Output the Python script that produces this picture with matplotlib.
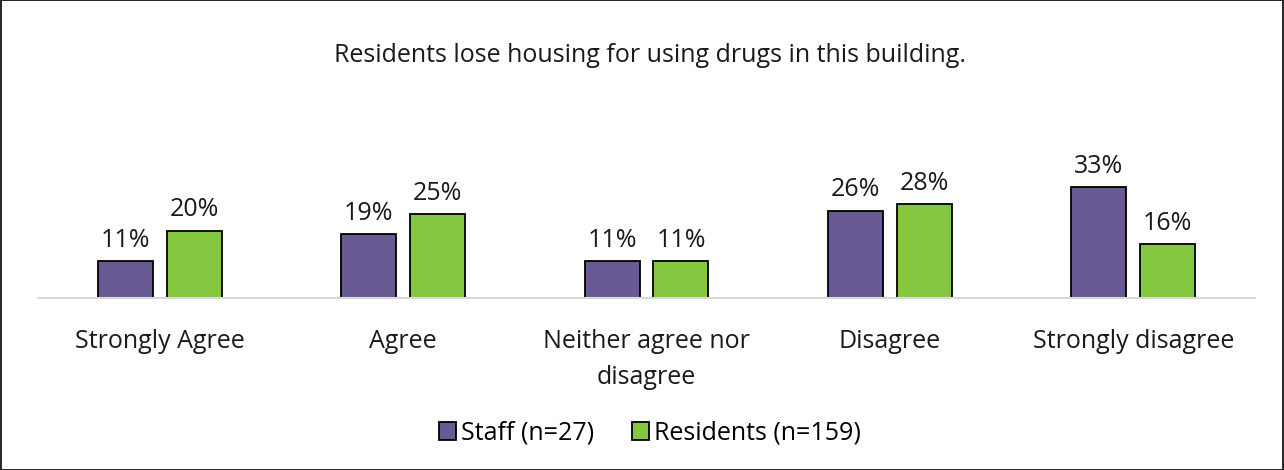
import numpy as np
import matplotlib.pyplot as plt
from matplotlib.patches import Rectangle

plt.rcParams['font.family'] = ['Open Sans', 'DejaVu Sans']

# Data
categories = ["Strongly Agree", "Agree", "Neither agree nor\ndisagree", "Disagree", "Strongly disagree"]
staff = [11, 19, 11, 26, 33]
residents = [20, 25, 11, 28, 16]
series_names = ["Staff (n=27)", "Residents (n=159)"]
title = "Residents lose housing for using drugs in this building."

purple = "#6A5A93"
green = "#86C740"
fs = 18

fig = plt.figure(figsize=(12.84, 4.70), dpi=100)
# axes: left 38px, right 1255px, baseline at y=298
ax = fig.add_axes([38 / 1284, (470 - 298) / 470, (1255 - 38) / 1284, 168 / 470])

x = np.arange(len(categories))
w = 0.226
off = 0.1417
b1 = ax.bar(x - off, staff, w, color=purple, edgecolor="black", linewidth=1.3, label=series_names[0])
b2 = ax.bar(x + off, residents, w, color=green, edgecolor="black", linewidth=1.3, label=series_names[1])

for bars, vals in [(b1, staff), (b2, residents)]:
    for r, v in zip(bars, vals):
        ax.annotate(f"{v}%", (r.get_x() + r.get_width() / 2, v), xytext=(0, 6),
                    textcoords="offset points", ha="center", va="bottom", fontsize=fs, color="#1a1a1a")

ax.set_xlim(-0.5, len(categories) - 0.5)
ax.set_ylim(0, 50)
ax.set_xticks(x)
ax.set_xticklabels(categories, fontsize=fs, color="#1a1a1a", linespacing=1.6)
ax.tick_params(axis="x", length=0, pad=22)
ax.set_yticks([])
for s in ["top", "right", "left"]:
    ax.spines[s].set_visible(False)
ax.spines["bottom"].set_color("#D9D9D9")
ax.spines["bottom"].set_linewidth(1.5)

fig.text(650 / 1284, 1 - 55 / 470, title, ha="center", va="center", fontsize=fs, color="#1a1a1a")

fig.legend(handles=[b1, b2], loc="center", bbox_to_anchor=(650 / 1284, 1 - 433 / 470), ncol=2,
           frameon=False, fontsize=fs, handlelength=0.7, handleheight=0.7, handletextpad=0.2,
           columnspacing=1.5)

fig.patches.append(Rectangle((0.0005, 0.001), 0.999, 0.998, transform=fig.transFigure,
                             fill=False, edgecolor="black", linewidth=1.2))

fig.savefig("out.png", dpi=100)
